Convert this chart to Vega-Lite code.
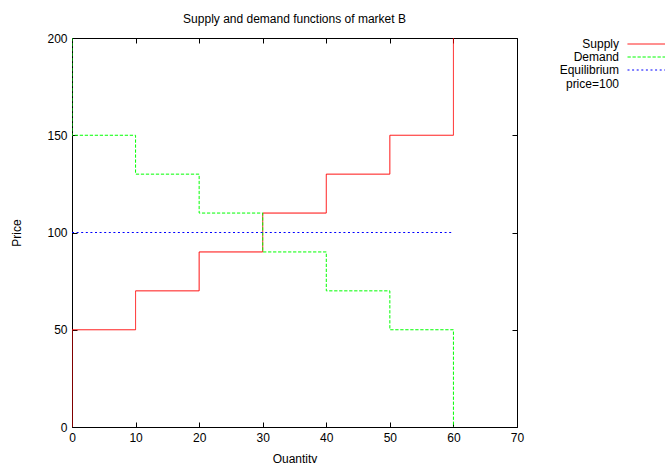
{
  "$schema": "https://vega.github.io/schema/vega-lite/v6.json",
  "width": 445,
  "height": 389,
  "autosize": {"type": "none"},
  "padding": {"left": 72, "top": 38, "right": 148, "bottom": 36},
  "background": "white",
  "title": {"text": "Supply and demand functions of market B", "fontSize": 12, "fontWeight": "normal", "font": "Liberation Sans", "offset": 6, "color": "black"},
  "config": {
    "view": {"stroke": "black", "strokeWidth": 1},
    "font": "Liberation Sans",
    "axis": {"labelFont": "Liberation Sans", "labelFontSize": 12, "labelColor": "black", "labelFlush": false, "titleFont": "Liberation Sans", "titleFontSize": 12, "titleFontWeight": "normal", "titleColor": "black", "grid": false, "domain": false, "tickColor": "black", "tickSize": -5, "tickWidth": 1}
  },
  "data": {"values": [
    {"s": "Supply", "i": 0, "q": 0, "p": 0},
    {"s": "Supply", "i": 1, "q": 0, "p": 50},
    {"s": "Supply", "i": 2, "q": 10, "p": 50},
    {"s": "Supply", "i": 3, "q": 10, "p": 70},
    {"s": "Supply", "i": 4, "q": 20, "p": 70},
    {"s": "Supply", "i": 5, "q": 20, "p": 90},
    {"s": "Supply", "i": 6, "q": 30, "p": 90},
    {"s": "Supply", "i": 7, "q": 30, "p": 110},
    {"s": "Supply", "i": 8, "q": 40, "p": 110},
    {"s": "Supply", "i": 9, "q": 40, "p": 130},
    {"s": "Supply", "i": 10, "q": 50, "p": 130},
    {"s": "Supply", "i": 11, "q": 50, "p": 150},
    {"s": "Supply", "i": 12, "q": 60, "p": 150},
    {"s": "Supply", "i": 13, "q": 60, "p": 200},
    {"s": "Demand", "i": 0, "q": 0, "p": 200},
    {"s": "Demand", "i": 1, "q": 0, "p": 150},
    {"s": "Demand", "i": 2, "q": 10, "p": 150},
    {"s": "Demand", "i": 3, "q": 10, "p": 130},
    {"s": "Demand", "i": 4, "q": 20, "p": 130},
    {"s": "Demand", "i": 5, "q": 20, "p": 110},
    {"s": "Demand", "i": 6, "q": 30, "p": 110},
    {"s": "Demand", "i": 7, "q": 30, "p": 90},
    {"s": "Demand", "i": 8, "q": 40, "p": 90},
    {"s": "Demand", "i": 9, "q": 40, "p": 70},
    {"s": "Demand", "i": 10, "q": 50, "p": 70},
    {"s": "Demand", "i": 11, "q": 50, "p": 50},
    {"s": "Demand", "i": 12, "q": 60, "p": 50},
    {"s": "Demand", "i": 13, "q": 60, "p": 0},
    {"s": "Equilibrium", "i": 0, "q": 0, "p": 100},
    {"s": "Equilibrium", "i": 1, "q": 60, "p": 100}
  ]},
  "layer": [
    {
      "mark": {"type": "line", "strokeWidth": 1, "clip": true},
      "encoding": {
        "x": {"field": "q", "type": "quantitative", "scale": {"domain": [0, 70], "nice": false}, "axis": {"orient": "bottom", "title": "Quantity", "values": [0, 10, 20, 30, 40, 50, 60, 70], "labelPadding": 10, "titlePadding": 10}},
        "y": {"field": "p", "type": "quantitative", "scale": {"domain": [0, 200], "nice": false}, "axis": {"orient": "left", "title": "Price", "values": [0, 50, 100, 150, 200], "labelPadding": 10, "titlePadding": 23}},
        "order": {"field": "i", "type": "quantitative"},
        "color": {"field": "s", "type": "nominal", "sort": ["Supply", "Demand", "Equilibrium"], "scale": {"domain": ["Supply", "Demand", "Equilibrium"], "range": ["#ff0000", "#00ff00", "#0000ff"]},
          "legend": {"title": null, "orient": "none", "legendX": 569.5, "legendY": 0, "symbolType": "M-4,0H4", "symbolSize": 100, "symbolStrokeWidth": 1, "symbolFillColor": "transparent", "labelAlign": "right", "labelOffset": -34.5, "labelFontSize": 12, "labelFont": "Liberation Sans", "labelColor": "black", "padding": 0, "rowPadding": 1, "labelExpr": "datum.label == 'Equilibrium' ? ['Equilibrium', 'price=100'] : datum.label"}},
        "strokeDash": {"field": "s", "type": "nominal", "sort": ["Supply", "Demand", "Equilibrium"], "scale": {"domain": ["Supply", "Demand", "Equilibrium"], "range": [[1, 0], [3.3, 1.7], [2, 2.6]]}, "legend": null}
      }
    },
    {
      "mark": {"type": "rule", "opacity": 0},
      "encoding": {
        "x": {"field": "q", "type": "quantitative", "axis": {"orient": "top", "title": null, "labels": false, "values": [0, 10, 20, 30, 40, 50, 60, 70]}},
        "y": {"field": "p", "type": "quantitative", "axis": {"orient": "right", "title": null, "labels": false, "values": [0, 50, 100, 150, 200]}}
      }
    }
  ],
  "resolve": {"axis": {"x": "independent", "y": "independent"}}
}
